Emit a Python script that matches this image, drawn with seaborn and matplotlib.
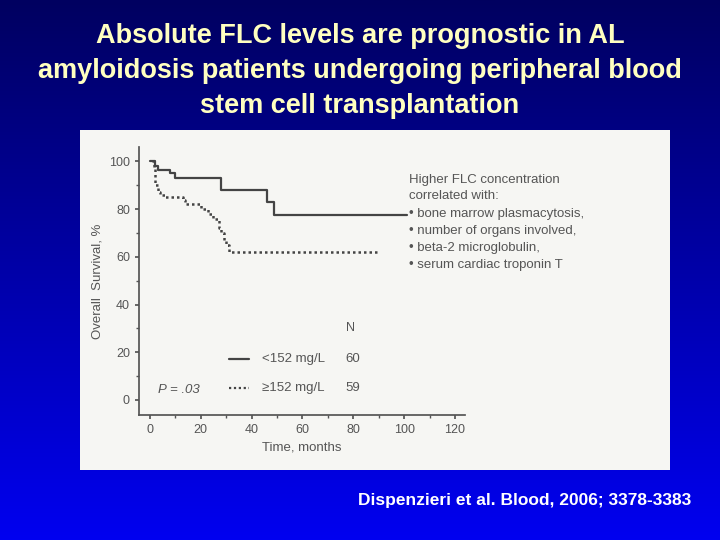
import numpy as np
import matplotlib
matplotlib.use("Agg")
import matplotlib.pyplot as plt
import seaborn as sns
from matplotlib.patches import Rectangle
from matplotlib.ticker import MultipleLocator

# Kaplan-Meier steps
low_t = [0, 2, 3, 8, 10, 28, 46, 49, 101]
low_s = [100, 98, 96.5, 95, 93, 88, 83, 77.5, 77.5]
high_t = [1, 1.5, 2, 3, 4, 6, 13, 14, 20, 23, 25, 27, 28, 29, 30, 31, 90]
high_s = [100, 97, 90, 87, 86, 85, 84, 82, 80, 78, 76, 72, 70, 67, 65, 62, 62]
bullets = ["bone marrow plasmacytosis,", "number of organs involved,",
           "beta-2 microglobulin,", "serum cardiac troponin T"]

sns.set_theme(style="ticks")
plt.rcParams['font.family'] = ['Liberation Sans', 'DejaVu Sans']

fig = plt.figure(figsize=(7.2, 5.4), dpi=100)

# blue gradient slide background
bg = fig.add_axes([0, 0, 1, 1], zorder=-2)
grad = np.linspace(0, 1, 256).reshape(-1, 1)
cmap = matplotlib.colors.LinearSegmentedColormap.from_list("bg", ["#000060", "#0000f0"])
bg.imshow(grad, aspect="auto", cmap=cmap, extent=[0, 1, 0, 1])
bg.axis("off")

fig.patches.append(Rectangle((80 / 720, 1 - 470 / 540), 590 / 720, 340 / 540,
                             transform=fig.transFigure, facecolor="#f6f6f3",
                             edgecolor="none", zorder=-1))

fig.text(0.5, 0.868, "Absolute FLC levels are prognostic in AL\namyloidosis patients undergoing peripheral blood\nstem cell transplantation",
         ha="center", va="center", color="#ffffc0", fontsize=19.5, fontweight="bold", linespacing=1.45)
fig.text(0.96, 0.073, "Dispenzieri et al. Blood, 2006; 3378-3383", ha="right", va="center",
         color="white", fontsize=12.5, fontweight="bold")

ax = fig.add_axes([0.193, 0.2315, 0.453, 0.496])
ax.set_facecolor("none")
gray = "#555555"
sns.lineplot(x=low_t, y=low_s, drawstyle="steps-post", color="#444444", lw=1.6, ax=ax)
sns.lineplot(x=high_t, y=high_s, drawstyle="steps-post", color="#444444", lw=1.8,
             linestyle=(0, (1, 1.2)), ax=ax)
ax.set_xlim(-4.3, 124)
ax.set_ylim(-6.3, 106)
ax.set_xticks(range(0, 121, 20))
ax.set_yticks(range(0, 101, 20))
ax.xaxis.set_minor_locator(MultipleLocator(10))
ax.yaxis.set_minor_locator(MultipleLocator(10))
ax.tick_params(colors=gray, labelsize=9, length=3)
ax.tick_params(which="minor", length=2, colors=gray)
for s in ["top", "right"]:
    ax.spines[s].set_visible(False)
for s in ["left", "bottom"]:
    ax.spines[s].set_color(gray)
ax.set_xlabel("Time, months", color=gray, fontsize=9.5)
ax.set_ylabel("Overall  Survival, %", color=gray, fontsize=9.5)

ax.text(3, 3, "P = .03", color=gray, fontsize=9.5, style="italic")
ax.plot([31, 39], [17, 17], color="#444444", lw=1.6)
ax.plot([31, 39], [5, 5], color="#444444", lw=1.6, linestyle=(0, (1, 1.2)))
ax.text(44, 17, "<152 mg/L", color=gray, fontsize=9.5, va="center")
ax.text(44, 5, "\u2265152 mg/L", color=gray, fontsize=9.5, va="center")
ax.text(77, 30, "N", color=gray, fontsize=9, va="center")
ax.text(77, 17, "60", color=gray, fontsize=9.5, va="center")
ax.text(77, 5, "59", color=gray, fontsize=9.5, va="center")

ax.text(102, 89, "Higher FLC concentration\ncorrelated with:", color=gray, fontsize=9.5,
        va="center", clip_on=False, linespacing=1.45)
for i, b in enumerate(bullets):
    ax.text(102, 78 - i * 7.2, "\u2022 " + b, color=gray, fontsize=9.5, va="center", clip_on=False)

fig.savefig("out.png", dpi=100)
